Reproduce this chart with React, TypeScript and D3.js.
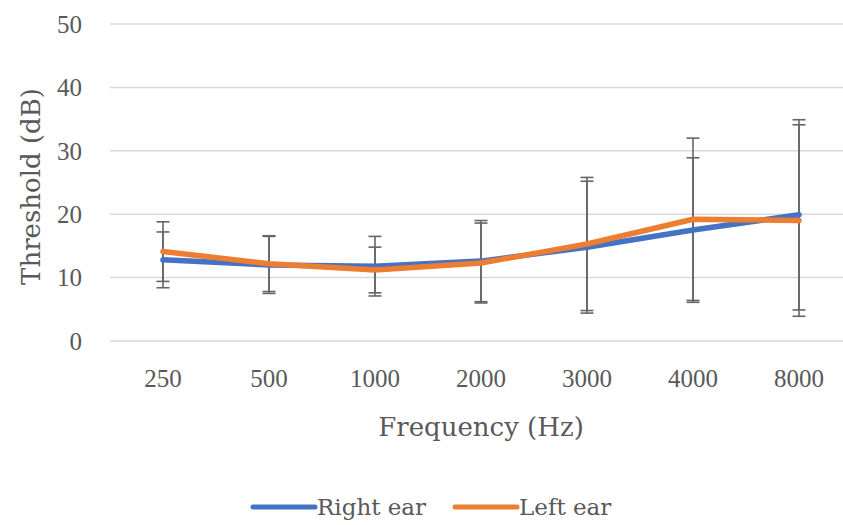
import React, { useRef, useEffect } from 'react';
import * as d3 from 'd3';

const frequencies = ['250', '500', '1000', '2000', '3000', '4000', '8000'];
const rightEar = [12.8, 12.0, 11.8, 12.6, 14.8, 17.5, 19.9];
const rightErr = [4.4, 4.5, 4.7, 6.4, 10.4, 11.4, 15.0];
const leftEar = [14.1, 12.2, 11.2, 12.3, 15.3, 19.2, 19.0];
const leftErr = [4.7, 4.4, 3.6, 6.3, 10.5, 12.8, 15.1];
const yTicks = [0, 10, 20, 30, 40, 50];

export default function App() {
  const svgRef = useRef<SVGSVGElement>(null);
  const width = 843;
  const height = 525;

  useEffect(() => {
    const svg = d3.select(svgRef.current);
    svg.selectAll('*').remove();

    const x = d3.scaleBand().domain(frequencies).range([110, 852]);
    const y = d3.scaleLinear().domain([0, 50]).range([341, 24]);
    const cx = (f: string) => (x(f) as number) + x.bandwidth() / 2;

    const textColor = '#595959';
    const serif = 'DejaVu Serif, serif';

    // gridlines
    svg.append('g')
      .selectAll('line')
      .data(yTicks)
      .join('line')
      .attr('x1', 110)
      .attr('x2', 852)
      .attr('y1', d => y(d))
      .attr('y2', d => y(d))
      .attr('stroke', '#d9d9d9')
      .attr('stroke-width', 1.5);

    // y tick labels
    svg.append('g')
      .selectAll('text')
      .data(yTicks)
      .join('text')
      .attr('x', 82)
      .attr('y', d => y(d))
      .attr('dy', '0.35em')
      .attr('text-anchor', 'end')
      .attr('fill', textColor)
      .attr('font-size', 25)
      .attr('font-family', 'Liberation Serif, serif')
      .text(d => d);

    // x tick labels
    svg.append('g')
      .selectAll('text')
      .data(frequencies)
      .join('text')
      .attr('x', d => cx(d))
      .attr('y', 387)
      .attr('text-anchor', 'middle')
      .attr('fill', textColor)
      .attr('font-size', 25)
      .attr('font-family', 'Liberation Serif, serif')
      .text(d => d);

    // error bars
    const series = [
      { values: rightEar, errs: rightErr, color: '#4472C4', name: 'Right ear' },
      { values: leftEar, errs: leftErr, color: '#ED7D31', name: 'Left ear' },
    ];
    const bars = svg.append('g').attr('stroke', '#666666').attr('stroke-width', 1.6);
    series.forEach(s => {
      frequencies.forEach((f, i) => {
        const hi = y(s.values[i] + s.errs[i]);
        const lo = y(s.values[i] - s.errs[i]);
        const px = cx(f);
        bars.append('line').attr('x1', px).attr('x2', px).attr('y1', hi).attr('y2', lo);
        bars.append('line').attr('x1', px - 6.5).attr('x2', px + 6.5).attr('y1', hi).attr('y2', hi);
        bars.append('line').attr('x1', px - 6.5).attr('x2', px + 6.5).attr('y1', lo).attr('y2', lo);
      });
    });

    // lines
    const line = d3.line<number>()
      .x((_, i) => cx(frequencies[i]))
      .y(d => y(d));
    series.forEach(s => {
      svg.append('path')
        .datum(s.values)
        .attr('fill', 'none')
        .attr('stroke', s.color)
        .attr('stroke-width', 5.5)
        .attr('stroke-linecap', 'round')
        .attr('stroke-linejoin', 'round')
        .attr('d', line);
    });

    // axis titles
    svg.append('text')
      .attr('x', 481)
      .attr('y', 436)
      .attr('text-anchor', 'middle')
      .attr('fill', textColor)
      .attr('font-size', 26)
      .attr('font-family', serif)
      .text('Frequency (Hz)');

    svg.append('text')
      .attr('transform', `translate(40,${(y(0) + y(50)) / 2 + 4}) rotate(-90)`)
      .attr('text-anchor', 'middle')
      .attr('fill', textColor)
      .attr('font-size', 26)
      .attr('font-family', serif)
      .text('Threshold (dB)');

    // legend
    const legendX = [253, 455];
    series.forEach((s, i) => {
      const lx = legendX[i];
      svg.append('line')
        .attr('x1', lx)
        .attr('x2', lx + 62)
        .attr('y1', 507)
        .attr('y2', 507)
        .attr('stroke', s.color)
        .attr('stroke-width', 5)
        .attr('stroke-linecap', 'round');
      svg.append('text')
        .attr('x', lx + 64)
        .attr('y', 515)
        .attr('fill', textColor)
        .attr('font-size', 23)
        .attr('font-family', serif)
        .text(s.name);
    });
  }, []);

  return (
    <svg
      ref={svgRef}
      width={width}
      height={height}
      style={{ position: 'absolute', left: 0, top: 0, background: '#fff' }}
    />
  );
}
